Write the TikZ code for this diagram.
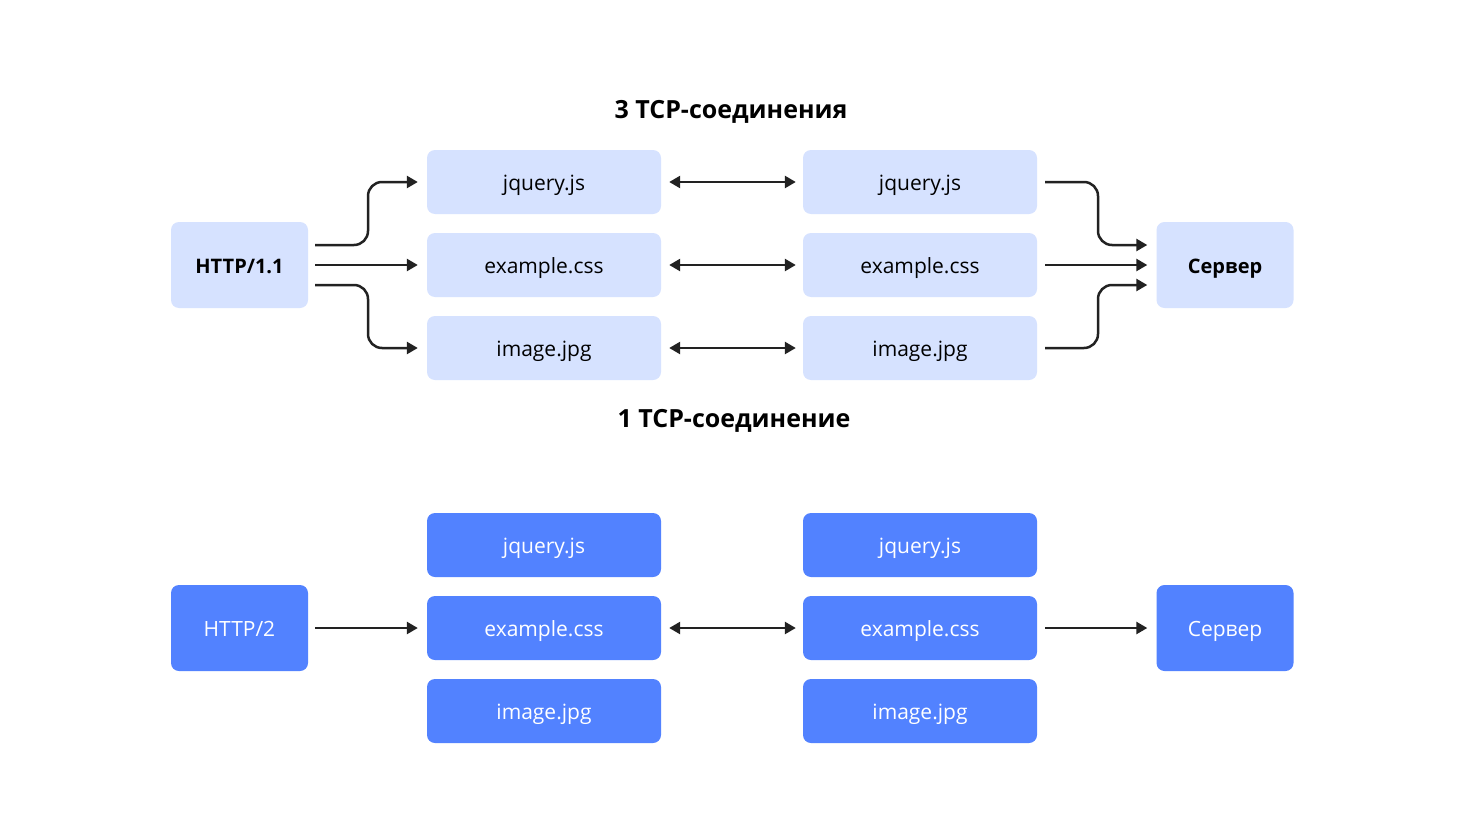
\documentclass[tikz,border=0pt]{standalone}
\usepackage{fontspec}
\setmainfont{Open Sans}
\usetikzlibrary{arrows.meta,calc}
\definecolor{lightbox}{HTML}{D6E2FF}
\definecolor{bluebox}{HTML}{5282FF}
\definecolor{arrowc}{HTML}{222222}
\begin{document}
\begin{tikzpicture}[x=1pt,y=-1pt,
  box/.style={rectangle, rounded corners=8pt, inner sep=0pt, minimum height=64pt, minimum width=234pt, text height=20pt, text depth=4pt, font=\fontsize{21}{24}\selectfont},
  sbox/.style={rectangle, rounded corners=8pt, inner sep=0pt, minimum height=86pt, minimum width=137pt, text height=20pt, text depth=4pt, font=\fontsize{21}{24}\selectfont},
  lt/.style={fill=lightbox, text=black},
  dk/.style={fill=bluebox, text=white},
  arr/.style={draw=arrowc, line width=2.5pt, -{Triangle[length=11pt,width=12pt]}, rounded corners=14pt},
  darr/.style={draw=arrowc, line width=2.5pt, {Triangle[length=11pt,width=12pt]}-{Triangle[length=11pt,width=12pt]}},
  ttl/.style={font=\bfseries\fontsize{25}{30}\selectfont, text=black}]
\useasboundingbox[fill=white] (0,0) rectangle (1466,824);

% titles
\node[ttl] (t1) at (731,112) {3 TCP-соединения};
\node[ttl] (t2) at (734,421) {1 TCP-соединение};

% top section
\node[sbox,lt,font=\bfseries\fontsize{20}{24}\selectfont] (h1) at (239.5,265) {HTTP/1.1};
\node[box,lt] (a1) at (544,182) {jquery.js};
\node[box,lt] (a2) at (544,265) {example.css};
\node[box,lt] (a3) at (544,348) {image.jpg};
\node[box,lt] (b1) at (920,182) {jquery.js};
\node[box,lt] (b2) at (920,265) {example.css};
\node[box,lt] (b3) at (920,348) {image.jpg};
\node[sbox,lt,font=\bfseries\fontsize{20}{24}\selectfont] (s1) at (1225,265) {Сервер};

\coordinate (mL) at (368,0);
\coordinate (mR) at (1098,0);

\coordinate (h1a) at ($(h1.east)+(7,-20)$);
\coordinate (h1b) at ($(h1.east)+(7,0)$);
\coordinate (h1c) at ($(h1.east)+(7,20)$);
\coordinate (a1t) at ($(a1.west)+(-9,0)$);
\coordinate (a2t) at ($(a2.west)+(-9,0)$);
\coordinate (a3t) at ($(a3.west)+(-9,0)$);
\draw[arr] (h1a) -| (mL |- a1t) -- (a1t);
\draw[arr] (h1b) -- (a2t);
\draw[arr] (h1c) -| (mL |- a3t) -- (a3t);

\draw[darr] ($(a1.east)+(8,0)$) -- ($(b1.west)+(-7,0)$);
\draw[darr] ($(a2.east)+(8,0)$) -- ($(b2.west)+(-7,0)$);
\draw[darr] ($(a3.east)+(8,0)$) -- ($(b3.west)+(-7,0)$);

\coordinate (b1s) at ($(b1.east)+(8,0)$);
\coordinate (b2s) at ($(b2.east)+(8,0)$);
\coordinate (b3s) at ($(b3.east)+(8,0)$);
\coordinate (s1a) at ($(s1.west)+(-9,-20)$);
\coordinate (s1b) at ($(s1.west)+(-9,0)$);
\coordinate (s1c) at ($(s1.west)+(-9,20)$);
\draw[arr] (b1s) -| (mR |- s1a) -- (s1a);
\draw[arr] (b2s) -- (s1b);
\draw[arr] (b3s) -| (mR |- s1c) -- (s1c);

% bottom section
\node[sbox,dk] (h2) at (239.5,628) {HTTP/2};
\node[box,dk] (c1) at (544,545) {jquery.js};
\node[box,dk] (c2) at (544,628) {example.css};
\node[box,dk] (c3) at (544,711) {image.jpg};
\node[box,dk] (d1) at (920,545) {jquery.js};
\node[box,dk] (d2) at (920,628) {example.css};
\node[box,dk] (d3) at (920,711) {image.jpg};
\node[sbox,dk] (s2) at (1225,628) {Сервер};

\draw[arr] ($(h2.east)+(7,0)$) -- ($(c2.west)+(-9,0)$);
\draw[darr] ($(c2.east)+(8,0)$) -- ($(d2.west)+(-7,0)$);
\draw[arr] ($(d2.east)+(8,0)$) -- ($(s2.west)+(-9,0)$);
\end{tikzpicture}
\end{document}
